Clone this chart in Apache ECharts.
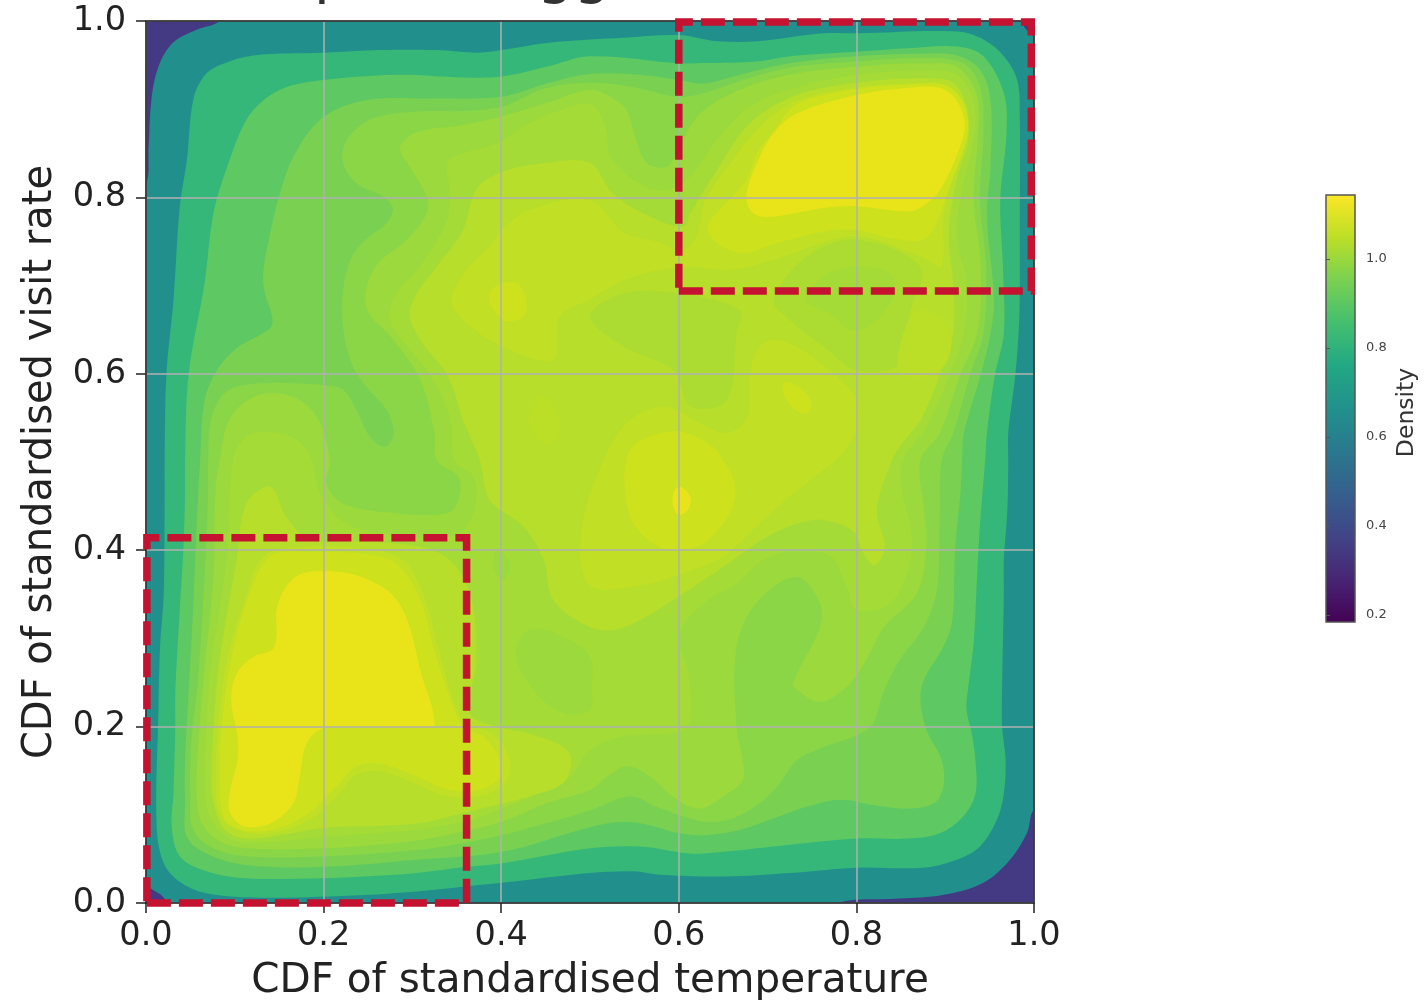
<!DOCTYPE html>
<html><head><meta charset="utf-8">
<style>html,body{margin:0;padding:0;background:#fff}#c{width:1428px;height:1000px}#c canvas{filter:blur(.6px)}</style>
<script src="https://cdn.jsdelivr.net/npm/echarts@6/dist/echarts.min.js"></script>
</head><body><div id="c"></div>
<script>
const xTicks=[0,0.2,0.4,0.6,0.8,1.0];
const yTicks=[0,0.2,0.4,0.6,0.8,1.0];
const barTicks=[0.2,0.4,0.6,0.8,1.0];
const xName='CDF of standardised temperature';
const yName='CDF of standardised visit rate';
const barName='Density';
const barRange=[0.184,1.144];
const viridis=['#440154','#482475','#414487','#355f8d','#2a788e','#21918c','#22a884','#44bf70','#7ad151','#bddf26','#fde725'];

const domain=[[0,0],[1,0],[1,1],[0,1]];
const cornerTL=[[-.02,1.02],[.09,1.02],[.083,1],[.057,.99],[.03,.975],[.014,.948],[.006,.91],[.003,.857],[0,.815],[-.02,.8]];
const cornerBR=[[1.02,-.02],[1.02,.09],[1,.105],[.992,.079],[.973,.049],[.943,.023],[.897,.009],[.849,.005],[.778,0],[.77,-.02]];
const cornerTR=[[1.01,1.01],[1.01,.98],[1,.982],[.988,.995],[.98,1.01]];
const cornerBL=[[-.01,-.01],[.025,-.01],[.02,.006],[.006,.016],[-.01,.025]];

const band2=[[.021,.502],[.023,.599],[.031,.684],[.038,.789],[.046,.842],[.053,.91],[.065,.937],[.083,.95],[.121,.961],[.2,.964],[.263,.967],[.327,.967],[.373,.964],[.401,.967],[.451,.975],[.5,.979],[.5375,.981],[.6,.984],[.643,.977],[.688,.977],[.763,.986],[.8,.986],[.913,.988],[.943,.979],[.966,.96],[.981,.933],[.984,.892],[.984,.759],[.984,.695],[.983,.653],[.979,.599],[.971,.533],[.971,.502],[.97,.446],[.966,.389],[.966,.351],[.964,.238],[.964,.2],[.968,.162],[.966,.124],[.958,.094],[.939,.064],[.913,.049],[.875,.04],[.8,.04],[.725,.034],[.65,.03],[.579,.032],[.549,.036],[.5,.034],[.401,.023],[.361,.019],[.305,.013],[.245,.009],[.132,.006],[.068,.011],[.038,.024],[.02,.045],[.012,.087],[.014,.219],[.016,.294],[.02,.351],[.021,.464]];
const band3=[[.044,.502],[.048,.599],[.066,.703],[.076,.782],[.094,.842],[.113,.888],[.132,.91],[.158,.925],[.2,.933],[.282,.939],[.357,.936],[.401,.937],[.451,.948],[.5,.96],[.6,.952],[.62,.952],[.688,.954],[.725,.96],[.8,.965],[.857,.969],[.913,.971],[.943,.96],[.966,.918],[.969,.873],[.962,.797],[.965,.721],[.966,.646],[.956,.599],[.947,.533],[.945,.502],[.939,.427],[.935,.351],[.932,.294],[.926,.245],[.924,.219],[.93,.192],[.934,.162],[.934,.124],[.92,.098],[.894,.079],[.857,.073],[.8,.073],[.725,.066],[.65,.058],[.613,.056],[.556,.064],[.5,.062],[.401,.045],[.361,.041],[.305,.034],[.245,.03],[.2,.028],[.113,.028],[.068,.036],[.038,.053],[.029,.087],[.031,.124],[.033,.2],[.033,.238],[.038,.332],[.042,.4],[.044,.464]];
const band4=[[.061,.502],[.066,.57],[.08,.604],[.102,.629],[.14,.652],[.142,.665],[.134,.691],[.132,.714],[.14,.76],[.151,.805],[.166,.846],[.192,.884],[.222,.903],[.263,.912],[.32,.912],[.401,.914],[.451,.929],[.5,.94],[.556,.939],[.6,.933],[.628,.929],[.669,.939],[.725,.952],[.8,.96],[.875,.963],[.913,.961],[.939,.945],[.951,.91],[.951,.835],[.947,.778],[.955,.684],[.951,.646],[.94,.599],[.921,.533],[.919,.502],[.917,.464],[.911,.4],[.908,.321],[.898,.291],[.876,.253],[.872,.23],[.879,.196],[.896,.162],[.898,.132],[.887,.113],[.857,.107],[.819,.111],[.782,.117],[.744,.109],[.707,.096],[.669,.083],[.632,.077],[.601,.079],[.568,.088],[.538,.092],[.5,.086],[.401,.058],[.305,.049],[.2,.041],[.113,.043],[.068,.056],[.046,.075],[.044,.113],[.044,.162],[.048,.238],[.053,.332],[.057,.427]];
const band5=[[.07,.502],[.074,.551],[.091,.58],[.125,.589],[.17,.589],[.2,.587],[.222,.582],[.237,.559],[.252,.529],[.269,.517],[.279,.532],[.271,.559],[.245,.589],[.23,.616],[.222,.653],[.222,.695],[.23,.729],[.245,.75],[.271,.771],[.278,.788],[.267,.801],[.237,.816],[.222,.839],[.226,.865],[.252,.888],[.301,.897],[.357,.898],[.401,.903],[.451,.924],[.5,.93],[.549,.925],[.6,.914],[.628,.918],[.669,.932],[.725,.947],[.8,.954],[.875,.958],[.92,.952],[.939,.926],[.943,.873],[.939,.797],[.946,.722],[.943,.646],[.928,.599],[.909,.533],[.896,.502],[.894,.446],[.893,.389],[.89,.351],[.876,.313],[.849,.276],[.83,.238],[.819,.204],[.8,.19],[.763,.177],[.733,.162],[.714,.136],[.691,.113],[.661,.096],[.632,.092],[.605,.098],[.575,.109],[.545,.121],[.5,.105],[.401,.077],[.357,.068],[.305,.06],[.2,.053],[.113,.053],[.076,.062],[.053,.083],[.05,.124],[.051,.181],[.059,.257],[.066,.37],[.07,.464]];
const band6=[[.083,.502],[.095,.55],[.125,.575],[.162,.575],[.192,.552],[.207,.502],[.203,.476],[.222,.453],[.282,.442],[.339,.442],[.352,.457],[.352,.483],[.327,.502],[.325,.532],[.309,.593],[.279,.638],[.248,.676],[.258,.721],[.294,.752],[.316,.782],[.316,.801],[.297,.835],[.286,.857],[.305,.874],[.357,.882],[.401,.892],[.451,.907],[.5,.922],[.523,.914],[.541,.899],[.552,.865],[.564,.839],[.587,.835],[.6,.857],[.624,.895],[.669,.922],[.725,.939],[.8,.948],[.875,.952],[.913,.948],[.935,.918],[.937,.873],[.932,.797],[.94,.722],[.936,.646],[.917,.599],[.894,.533],[.872,.502],[.876,.446],[.879,.408],[.868,.351],[.831,.313],[.808,.27],[.789,.245],[.759,.228],[.733,.242],[.729,.25],[.759,.313],[.759,.34],[.733,.37],[.688,.341],[.665,.29],[.665,.2],[.672,.162],[.672,.139],[.65,.121],[.624,.107],[.594,.12],[.568,.143],[.542,.155],[.519,.143],[.5,.128],[.451,.113],[.401,.092],[.357,.081],[.305,.071],[.2,.062],[.113,.062],[.083,.07],[.063,.09],[.057,.124],[.059,.181],[.065,.257],[.076,.37],[.078,.464]];
const band7=[[.098,.502],[.113,.529],[.14,.534],[.17,.525],[.187,.502],[.196,.464],[.226,.43],[.282,.417],[.339,.415],[.361,.427],[.372,.457],[.369,.483],[.348,.502],[.342,.551],[.32,.599],[.301,.623],[.275,.661],[.282,.691],[.308,.721],[.339,.774],[.342,.812],[.339,.839],[.357,.85],[.395,.861],[.432,.884],[.478,.903],[.5,.906],[.511,.895],[.519,.873],[.523,.846],[.549,.82],[.583,.808],[.613,.824],[.643,.865],[.68,.903],[.733,.925],[.8,.939],[.875,.944],[.913,.939],[.932,.91],[.932,.865],[.921,.816],[.913,.759],[.924,.703],[.921,.646],[.905,.599],[.878,.537],[.852,.502],[.852,.464],[.861,.427],[.861,.389],[.839,.34],[.8,.332],[.789,.359],[.771,.393],[.733,.4],[.695,.389],[.665,.362],[.632,.343],[.601,.306],[.611,.26],[.613,.207],[.6,.194],[.538,.189],[.5,.173],[.478,.143],[.451,.128],[.401,.107],[.357,.092],[.305,.083],[.2,.075],[.113,.068],[.087,.078],[.07,.102],[.066,.143],[.068,.2],[.074,.276],[.091,.389]];
const band7hole1=[[.417,.283],[.432,.31],[.47,.302],[.5,.279],[.502,.245],[.5,.219],[.47,.215],[.436,.242]];
const band7hole2=[[.395,.4],[.41,.385],[.403,.367],[.392,.377]];
const center8=[[.376,.502],[.357,.548],[.339,.599],[.312,.634],[.297,.665],[.305,.691],[.327,.721],[.357,.763],[.372,.809],[.401,.829],[.451,.839],[.5,.839],[.526,.804],[.568,.778],[.605,.767],[.613,.782],[.643,.831],[.68,.884],[.733,.916],[.8,.93],[.875,.935],[.909,.93],[.924,.903],[.926,.865],[.913,.82],[.904,.759],[.909,.703],[.909,.646],[.894,.599],[.872,.547],[.85,.519],[.84,.502],[.823,.446],[.832,.404],[.821,.383],[.808,.396],[.797,.421],[.763,.434],[.733,.43],[.699,.415],[.65,.381],[.605,.351],[.564,.325],[.53,.31],[.5,.313],[.459,.343],[.448,.389],[.425,.427],[.387,.457]];
const lobe8=[[.113,.453],[.14,.472],[.158,.438],[.185,.412],[.245,.41],[.309,.404],[.342,.389],[.365,.351],[.372,.276],[.365,.215],[.395,.2],[.432,.192],[.47,.177],[.479,.162],[.47,.136],[.432,.121],[.395,.111],[.357,.102],[.305,.09],[.2,.085],[.151,.077],[.113,.073],[.089,.083],[.076,.113],[.074,.143],[.076,.2],[.083,.276],[.102,.389]];
const holeA=[[.707,.684],[.744,.733],[.8,.752],[.872,.721],[.861,.672],[.849,.612],[.8,.604],[.763,.631],[.725,.661]];
const holeA2=[[.744,.684],[.763,.71],[.8,.722],[.84,.712],[.84,.682],[.8,.648],[.77,.668]];
const holeB=[[.5,.665],[.538,.691],[.601,.691],[.669,.672],[.665,.646],[.654,.57],[.613,.563],[.594,.604],[.538,.631]];
const patchLeft=[[.344,.684],[.361,.718],[.387,.744],[.401,.763],[.432,.786],[.5,.797],[.538,.76],[.575,.75],[.605,.74],[.62,.756],[.63,.797],[.658,.839],[.695,.884],[.733,.91],[.8,.925],[.875,.929],[.907,.922],[.919,.895],[.92,.865],[.907,.82],[.898,.778],[.896,.722],[.875,.732],[.8,.756],[.744,.742],[.707,.729],[.659,.718],[.601,.721],[.538,.706],[.5,.684],[.466,.665],[.459,.616],[.401,.631],[.357,.661]];
const patchCenter=[[.515,.502],[.545,.548],[.586,.563],[.624,.544],[.654,.533],[.677,.55],[.68,.597],[.691,.631],[.714,.638],[.755,.616],[.8,.57],[.793,.521],[.748,.479],[.725,.461],[.695,.434],[.65,.393],[.605,.374],[.556,.36],[.5,.36],[.49,.42]];
const patchRight=[[.849,.6],[.849,.631],[.868,.672],[.898,.661],[.907,.638],[.898,.608],[.868,.595]];
const patchSpot=[[.446,.576],[.466,.548],[.462,.525],[.447,.521],[.431,.548]];
const patchLobe=[[.132,.393],[.177,.404],[.245,.402],[.29,.389],[.312,.351],[.331,.283],[.357,.207],[.391,.192],[.41,.162],[.406,.139],[.38,.122],[.339,.121],[.301,.136],[.264,.149],[.237,.145],[.215,.121],[.181,.092],[.132,.078],[.095,.087],[.081,.105],[.079,.143],[.081,.2],[.091,.276],[.11,.34]];
const peakLobe=[[.14,.393],[.192,.398],[.245,.396],[.282,.385],[.309,.344],[.327,.279],[.357,.2],[.38,.189],[.399,.162],[.399,.143],[.376,.128],[.342,.128],[.301,.145],[.264,.158],[.237,.155],[.211,.128],[.181,.1],[.143,.083],[.106,.083],[.087,.098],[.083,.143],[.085,.2],[.096,.276],[.113,.34]];
const peakTop=[[.632,.767],[.65,.79],[.676,.82],[.688,.85],[.707,.876],[.733,.906],[.8,.923],[.857,.928],[.898,.928],[.918,.912],[.926,.884],[.922,.858],[.905,.812],[.89,.77],[.875,.752],[.838,.754],[.8,.763],[.763,.761],[.71,.748],[.673,.737],[.643,.748]];
const peakCenter=[[.539,.472],[.549,.43],[.583,.402],[.624,.406],[.65,.43],[.663,.457],[.661,.483],[.65,.502],[.639,.517],[.609,.533],[.584,.534],[.549,.519],[.541,.502]];
const spotA=[[.395,.7],[.417,.703],[.428,.685],[.425,.665],[.405,.66],[.39,.675],[.386,.687]];
const spotB=[[.72,.591],[.74,.582],[.75,.566],[.744,.555],[.729,.561],[.718,.578]];
const topLobe=[[.158,.359],[.177,.374],[.222,.375],[.26,.362],[.282,.344],[.297,.313],[.309,.264],[.325,.202],[.305,.199],[.245,.199],[.2,.198],[.181,.181],[.173,.143],[.166,.113],[.14,.09],[.11,.087],[.095,.102],[.094,.124],[.103,.162],[.103,.189],[.096,.23],[.102,.26],[.121,.279],[.142,.287],[.147,.302],[.147,.332]];
const topRight=[[.676,.801],[.688,.839],[.707,.873],[.733,.895],[.8,.916],[.857,.924],[.894,.924],[.913,.91],[.922,.884],[.917,.858],[.894,.808],[.875,.79],[.857,.784],[.8,.79],[.763,.788],[.703,.778],[.684,.782]];
const topDot=[[.602,.472],[.613,.46],[.611,.447],[.6,.44],[.593,.452],[.595,.467]];

const contours=[domain,cornerTL,cornerBR,cornerTR,cornerBL,band2,band3,band4,band5,band6,band7,band7hole1,band7hole2,center8,lobe8,holeA,holeA2,holeB,patchLeft,patchCenter,patchRight,patchSpot,patchLobe,peakLobe,peakTop,peakCenter,spotA,spotB,topLobe,topRight,topDot];
const contourDensity=[.665,.30,.30,.30,.30,.81,.905,.953,.98,1.01,1.025,1.01,1.01,1.05,1.05,1.035,1.025,1.035,1.07,1.07,1.06,1.06,1.07,1.09,1.09,1.09,1.09,1.09,1.125,1.125,1.125];
const densityColor={0.3:'#443983',0.665:'#21908c',0.81:'#35b779',0.905:'#5ec962',0.953:'#7ad151',0.98:'#8bd646',1.01:'#9bd93c',1.025:'#a5db36',1.035:'#acdc31',1.05:'#b6de2a',1.06:'#bbde27',1.07:'#c0df25',1.09:'#cde11d',1.125:'#e8e419'};

const regionLow=[[0.001,0],[0.361,0],[0.361,0.414],[0.001,0.414]];
const regionHigh=[[0.6,0.694],[0.997,0.694],[0.997,0.999],[0.6,0.999]];
const regions=[regionLow,regionHigh];
const frame=[[0,0],[1,0],[1,1],[0,1]];

const TXT='#222';
const F='"DejaVu Sans"';
const chart=echarts.init(document.getElementById('c'),null,{renderer:'canvas'});
chart.setOption({
 animation:false,backgroundColor:'#fff',
 graphic:[
  {type:'text',left:314,top:-52,silent:true,style:{text:'p',font:'58px '+F,fill:'#333'}},
  {type:'text',left:537,top:-52,silent:true,style:{text:'gg',font:'58px '+F,fill:'#333'}}
 ],
 grid:[{left:146,top:21,width:888,height:882,outerBoundsMode:'none'},{left:1326,top:195,width:29,height:427,outerBoundsMode:'none'}],
 xAxis:[
  {gridIndex:0,type:'value',min:0,max:1,interval:0.2,z:2,name:xName,nameLocation:'middle',nameGap:58,
   nameTextStyle:{fontFamily:F,fontSize:40.5,color:TXT},
   axisLine:{show:false},axisTick:{show:true,length:10,lineStyle:{color:'#222',width:1.5}},
   axisLabel:{fontFamily:F,fontSize:33.5,color:TXT,margin:16,formatter:v=>v.toFixed(1)},
   splitLine:{show:true,lineStyle:{color:'#b0b0b0',width:1.5}}},
  {gridIndex:1,type:'value',min:0,max:1,show:false}
 ],
 yAxis:[
  {gridIndex:0,type:'value',min:0,max:1,interval:0.2,z:2,name:yName,nameLocation:'middle',nameGap:85,
   nameTextStyle:{fontFamily:F,fontSize:40,color:TXT},
   axisLine:{show:false},axisTick:{show:true,length:10,lineStyle:{color:'#222',width:1.5}},
   axisLabel:{fontFamily:F,fontSize:33.5,color:TXT,margin:20,formatter:v=>v.toFixed(1)},
   splitLine:{show:true,lineStyle:{color:'#b0b0b0',width:1.5}}},
  {gridIndex:1,type:'value',position:'right',min:barRange[0],max:barRange[1],z:3,name:barName,nameLocation:'middle',nameGap:40,
   nameTextStyle:{fontFamily:F,fontSize:23.5,color:'#333',padding:[0,8,0,0]},
   axisLine:{show:false},
   axisTick:{show:true,length:4,lineStyle:{color:'#555',width:1},customValues:barTicks},
   axisLabel:{fontFamily:F,fontSize:13,color:'#444',margin:11,customValues:barTicks,formatter:v=>v.toFixed(1)},
   splitLine:{show:false}}
 ],
 series:[
  {type:'custom',name:'Density',coordinateSystem:'cartesian2d',xAxisIndex:0,yAxisIndex:0,z:1,clip:true,silent:true,
   data:contours.map((c,i)=>[0.5,0.5,contourDensity[i]]),encode:{x:0,y:1},
   renderItem:(p,api)=>({type:'polygon',
     shape:{points:contours[p.dataIndex].map(q=>api.coord(q)),smooth:p.dataIndex===0?0:0.35},
     style:{fill:densityColor[contourDensity[p.dataIndex]]}})},
  {type:'custom',name:'frame',coordinateSystem:'cartesian2d',xAxisIndex:0,yAxisIndex:0,z:3,clip:false,silent:true,
   data:[[0.5,0.5]],encode:{x:0,y:1},
   renderItem:(p,api)=>({type:'polygon',shape:{points:frame.map(q=>api.coord(q))},style:{fill:'none',stroke:'#222',lineWidth:1.5}})},
  {type:'custom',name:'regions',coordinateSystem:'cartesian2d',xAxisIndex:0,yAxisIndex:0,z:4,clip:false,silent:true,
   data:regions.map(()=>[0.5,0.5]),encode:{x:0,y:1},
   renderItem:(p,api)=>({type:'polygon',shape:{points:regions[p.dataIndex].map(q=>api.coord(q))},
     style:{fill:'none',stroke:'#c41230',lineWidth:7.5,lineDash:[24,8],lineJoin:'miter'}})},
  {type:'custom',name:'colorbar',coordinateSystem:'cartesian2d',xAxisIndex:1,yAxisIndex:1,z:2,clip:false,silent:true,
   data:[[0.5,0.5]],encode:{x:0,y:1},
   renderItem:(p,api)=>{
     const a=api.coord([0,barRange[1]]),b=api.coord([1,barRange[0]]);
     return {type:'rect',shape:{x:a[0],y:a[1],width:b[0]-a[0],height:b[1]-a[1]},
       style:{stroke:'#555',lineWidth:1.5,
        fill:new echarts.graphic.LinearGradient(0,1,0,0,viridis.map((c,i)=>({offset:i/(viridis.length-1),color:c})))}};
   }}
 ]
});
</script></body></html>
